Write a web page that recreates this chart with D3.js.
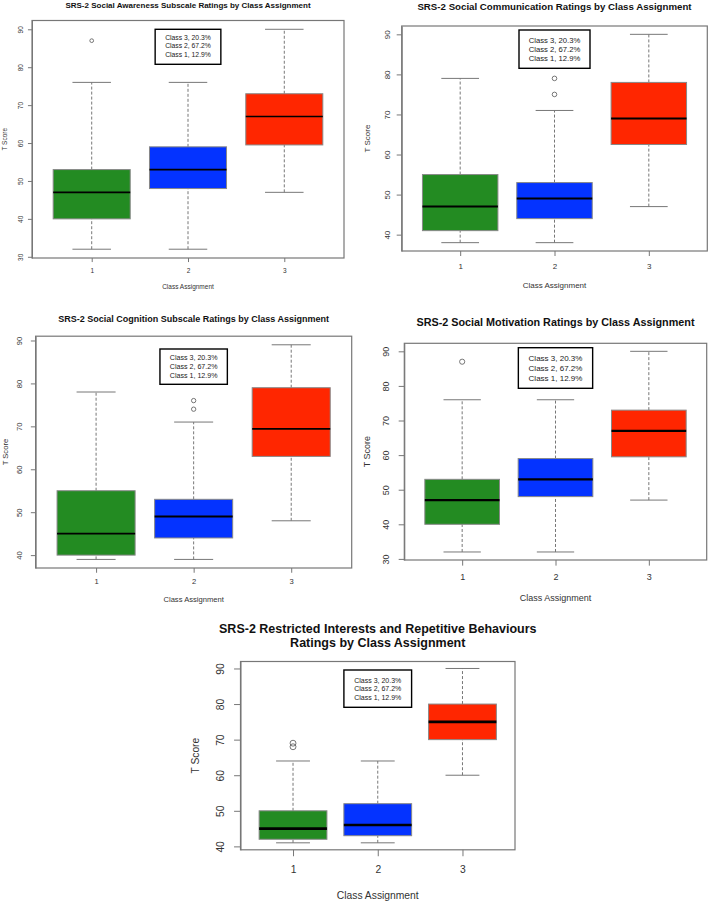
<!DOCTYPE html>
<html>
<head>
<meta charset="utf-8">
<script src="https://cdn.jsdelivr.net/npm/d3@7"></script>
<style>
  body { margin: 0; background: #fff; }
  svg { display: block; font-family: "Liberation Sans", Arial, sans-serif; }
</style>
</head>
<body>
<div class="canvas"></div>
<script>
// data: [lower whisker, Q1, median, Q3, upper whisker]
const classes = ["1", "2", "3"];
const fills = ["#238b22", "#0433ff", "#ff2600"];
const legendLines = ["Class 3, 20.3%", "Class 2, 67.2%", "Class 1, 12.9%"];
const ticks30 = [30, 40, 50, 60, 70, 80, 90];
const ticks40 = [40, 50, 60, 70, 80, 90];

const awarenessStats = [[32, 40, 47, 53, 76], [32, 48, 53, 59, 76], [47, 59.5, 67, 73, 90]];
const awarenessOut = [[87], [], []];

const communicationStats = [[38, 41, 47, 55, 79], [38, 44, 49, 53, 71], [47, 62.5, 69, 78, 90]];
const communicationOut = [[], [75, 79], []];

const cognitionStats = [[39, 40, 45, 55, 78], [39, 44, 49, 53, 71], [48, 63, 69.4, 79, 89]];
const cognitionOut = [[], [74, 76], []];

const motivationStats = [[32, 40, 47, 53, 76], [32, 48, 53, 59, 76], [47, 59.5, 67, 73, 90]];
const motivationOut = [[87], [], []];

const rrbStats = [[41, 42, 45, 50, 64], [41, 43, 46, 52, 64], [60, 70, 75, 80, 90]];
const rrbOut = [[68, 69], [], []];

const panels = [
  { title: ["SRS-2 Social Awareness Subscale Ratings by Class Assignment"], stats: awarenessStats, outliers: awarenessOut, ticks: ticks30,
    box: [32, 20.5, 344, 258], titleSize: 8, titleY: [5], axisSize: 6.5, yTickX: 20, yLabX: 4, xTickY: 270, xLabY: 286,
    legSize: 6.8, legTop: 29.3, legW: 65.7, legH: 35, legFirst: 8.4, legStep: 8.2 },
  { title: ["SRS-2 Social Communication Ratings by Class Assignment"], stats: communicationStats, outliers: communicationOut, ticks: ticks40,
    box: [401.7, 26, 707.3, 251], titleSize: 9.7, titleY: [6], axisSize: 8, yTickX: 387.3, yLabX: 367.3, xTickY: 266.7, xLabY: 285.7,
    legSize: 7.7, legTop: 30, legW: 71, legH: 38.3, legFirst: 10, legStep: 9.3 },
  { title: ["SRS-2 Social Cognition Subscale Ratings by Class Assignment"], stats: cognitionStats, outliers: cognitionOut, ticks: ticks40,
    box: [35.6, 336.2, 351.7, 568], titleSize: 9, titleY: [319.3], axisSize: 7.6, yTickX: 20, yLabX: 5, xTickY: 581.7, xLabY: 599,
    legSize: 7.1, legTop: 349, legW: 67.4, legH: 35.3, legFirst: 9.3, legStep: 8.7 },
  { title: ["SRS-2 Social Motivation Ratings by Class Assignment"], stats: motivationStats, outliers: motivationOut, ticks: ticks30,
    box: [404.3, 343.3, 706.7, 560], titleSize: 10.8, titleY: [321.7], axisSize: 9, yTickX: 385.7, yLabX: 367.3, xTickY: 576.7, xLabY: 598.3,
    legSize: 8, legTop: 347.7, legW: 74.3, legH: 40.6, legFirst: 10.6, legStep: 10 },
  { title: ["SRS-2 Restricted Interests and Repetitive Behaviours", "Ratings by Class Assignment"], stats: rrbStats, outliers: rrbOut, ticks: ticks40,
    box: [240.5, 661.5, 515, 849.8], titleSize: 12.5, titleY: [629.3, 643.3], axisSize: 10.3, yTickX: 220, yLabX: 195, xTickY: 869.3, xLabY: 895,
    legSize: 7, legTop: 670, legW: 67.7, legH: 37.3, legFirst: 10, legStep: 8.85 }
];

const svg = d3.select(".canvas").append("svg").attr("width", 709).attr("height", 902);

let drawPanel = (p) => {
  const [left, top, right, bottom] = p.box;
  const g = svg.append("g");

  // R style 4% extension of the data range
  let all = p.stats.flat().concat(p.outliers.flat());
  let lo = d3.min(all), hi = d3.max(all);
  let pad = (hi - lo) * 0.04;
  const y = d3.scaleLinear().domain([lo - pad, hi + pad]).range([bottom, top]);
  const x = d3.scaleLinear().domain([0.38, 3.62]).range([left, right]);
  const unit = x(2) - x(1);
  const k = p.axisSize / 8;

  // boxes
  p.stats.forEach((s, i) => {
    const cx = x(i + 1);
    const bw = unit * 0.4;
    const sw = unit * 0.2;
    // whiskers
    g.append("line").attr("x1", cx).attr("x2", cx).attr("y1", y(s[0])).attr("y2", y(s[1]))
      .attr("stroke", "#777").attr("stroke-width", 1).attr("stroke-dasharray", "3,2");
    g.append("line").attr("x1", cx).attr("x2", cx).attr("y1", y(s[3])).attr("y2", y(s[4]))
      .attr("stroke", "#777").attr("stroke-width", 1).attr("stroke-dasharray", "3,2");
    // staples
    [s[0], s[4]].forEach(v => {
      g.append("line").attr("x1", cx - sw).attr("x2", cx + sw).attr("y1", y(v)).attr("y2", y(v))
        .attr("stroke", "#777").attr("stroke-width", 1);
    });
    g.append("rect").attr("x", cx - bw).attr("width", bw * 2)
      .attr("y", y(s[3])).attr("height", y(s[1]) - y(s[3]))
      .attr("fill", fills[i]).attr("stroke", "#888").attr("stroke-width", 1);
    g.append("line").attr("x1", cx - bw).attr("x2", cx + bw).attr("y1", y(s[2])).attr("y2", y(s[2]))
      .attr("stroke", "#000").attr("stroke-width", 2 * k);
    p.outliers[i].forEach(v => {
      g.append("circle").attr("cx", cx).attr("cy", y(v)).attr("r", 2.3 * k)
        .attr("fill", "none").attr("stroke", "#555").attr("stroke-width", 0.8);
    });
  });

  // frame
  g.append("rect").attr("x", left).attr("y", top).attr("width", right - left).attr("height", bottom - top)
    .attr("fill", "none").attr("stroke", "#777").attr("stroke-width", 1.2);

  // axes
  const tick = 5 * k;
  const yAxis = g.append("g").attr("transform", `translate(${left},0)`)
    .call(d3.axisLeft(y).tickValues(p.ticks).tickSize(tick).tickSizeOuter(0));
  yAxis.select(".domain").attr("stroke", "#777");
  yAxis.selectAll(".tick line").attr("stroke", "#777");
  yAxis.selectAll(".tick text")
    .attr("x", 0).attr("y", 0).attr("dy", null)
    .attr("text-anchor", "middle").attr("dominant-baseline", "central")
    .attr("transform", `translate(${p.yTickX - left},0) rotate(-90)`)
    .attr("font-size", p.axisSize).attr("font-family", null).attr("fill", "#333");

  const xAxis = g.append("g").attr("transform", `translate(0,${bottom})`)
    .call(d3.axisBottom(x).tickValues([1, 2, 3]).tickFormat((d, i) => classes[i]).tickSize(tick).tickSizeOuter(0));
  xAxis.select(".domain").remove();
  xAxis.selectAll(".tick line").attr("stroke", "#777");
  xAxis.selectAll(".tick text")
    .attr("y", p.xTickY - bottom).attr("dy", null).attr("dominant-baseline", "central")
    .attr("font-size", p.axisSize).attr("font-family", null).attr("fill", "#333");

  // axis titles
  g.append("text").attr("x", (left + right) / 2).attr("y", p.xLabY)
    .attr("text-anchor", "middle").attr("dominant-baseline", "central")
    .attr("font-size", p.axisSize).attr("fill", "#333").text("Class Assignment");
  g.append("text").attr("transform", `translate(${p.yLabX},${(top + bottom) / 2}) rotate(-90)`)
    .attr("text-anchor", "middle").attr("dominant-baseline", "central")
    .attr("font-size", p.axisSize).attr("fill", "#333").text("T Score");

  // main title
  p.title.forEach((t, i) => {
    g.append("text").attr("x", (left + right) / 2).attr("y", p.titleY[i])
      .attr("text-anchor", "middle").attr("dominant-baseline", "central")
      .attr("font-size", p.titleSize).attr("font-weight", "bold").attr("fill", "#111").text(t);
  });

  // legend box, centred at top of plot
  const lx = x(2) - p.legW / 2;
  g.append("rect").attr("x", lx).attr("y", p.legTop).attr("width", p.legW).attr("height", p.legH)
    .attr("fill", "#fff").attr("stroke", "#000").attr("stroke-width", 1.4);
  legendLines.forEach((t, i) => {
    g.append("text").attr("x", x(2)).attr("y", p.legTop + p.legFirst + i * p.legStep)
      .attr("text-anchor", "middle").attr("dominant-baseline", "central")
      .attr("font-size", p.legSize).attr("fill", "#222").text(t);
  });
};

panels.forEach(drawPanel);
</script>
</body>
</html>
